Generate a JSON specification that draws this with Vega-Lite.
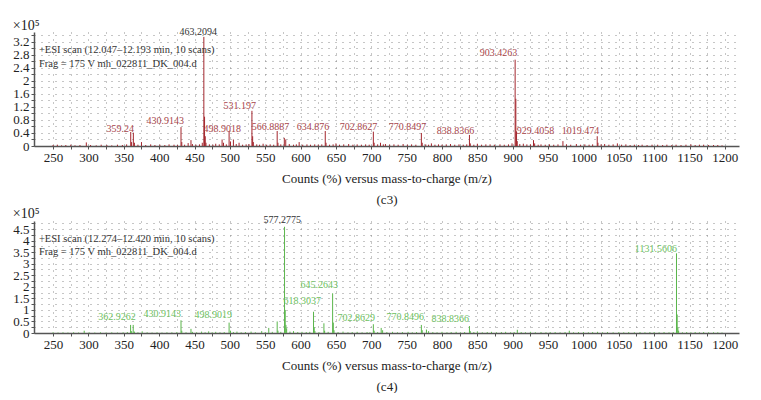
{
  "$schema": "https://vega.github.io/schema/vega-lite/v6.json",
  "padding": {"left": 12, "top": 19, "right": 5, "bottom": 0},
  "spacing": 0,
  "config": {
    "font": "Liberation Serif",
    "view": {"stroke": null},
    "axis": {
      "labelFont": "Liberation Serif", "titleFont": "Liberation Serif",
      "labelFontSize": 13, "titleFontSize": 13, "titleFontWeight": "normal",
      "labelColor": "#222", "titleColor": "#222", "labelOverlap": false,
      "domainColor": "#555", "domainWidth": 1.5,
      "tickColor": "#555", "tickSize": 3,
      "grid": true,
      "gridColor": "#8c8c8c", "gridDash": [1, 6], "gridWidth": 1, "gridOpacity": 1
    },
    "title": {"font": "Liberation Serif", "fontSize": 14, "fontWeight": "normal", "color": "#222"}
  },
  "datasets": {
    "c3": [
      {"mz":250,"i":0.03},{"mz":256,"i":0.04},{"mz":262,"i":0.02},{"mz":268,"i":0.03},{"mz":275,"i":0.04},{"mz":281,"i":0.02},{"mz":288,"i":0.03},{"mz":297,"i":0.11},{"mz":303,"i":0.03},{"mz":311,"i":0.02},{"mz":318,"i":0.04},{"mz":326,"i":0.03},{"mz":333,"i":0.02},{"mz":341,"i":0.04},{"mz":348,"i":0.03},{"mz":354,"i":0.05},{"mz":359.8,"i":0.43},{"mz":361,"i":0.12},{"mz":363.5,"i":0.41},{"mz":365,"i":0.1},{"mz":370,"i":0.04},{"mz":375,"i":0.12},{"mz":381,"i":0.03},{"mz":388,"i":0.05},{"mz":394,"i":0.03},{"mz":401,"i":0.04},{"mz":408,"i":0.03},{"mz":414,"i":0.05},{"mz":421,"i":0.04},{"mz":426,"i":0.03},{"mz":430.9,"i":0.58},{"mz":432,"i":0.12},{"mz":436,"i":0.04},{"mz":441,"i":0.09},{"mz":445,"i":0.18},{"mz":447,"i":0.06},{"mz":452,"i":0.04},{"mz":457,"i":0.05},{"mz":461,"i":0.1},{"mz":463.2,"i":3.35},{"mz":464.2,"i":0.9},{"mz":465.2,"i":0.3},{"mz":466.2,"i":0.1},{"mz":471,"i":0.05},{"mz":476,"i":0.04},{"mz":480,"i":0.07},{"mz":485,"i":0.05},{"mz":489,"i":0.2},{"mz":491,"i":0.1},{"mz":495,"i":0.05},{"mz":498.9,"i":0.46},{"mz":500.9,"i":0.14},{"mz":505,"i":0.2},{"mz":509,"i":0.06},{"mz":513,"i":0.1},{"mz":518,"i":0.04},{"mz":523,"i":0.05},{"mz":527,"i":0.06},{"mz":531.2,"i":1.08},{"mz":532.2,"i":0.3},{"mz":533.2,"i":0.12},{"mz":538,"i":0.05},{"mz":542,"i":0.04},{"mz":547,"i":0.07},{"mz":552,"i":0.04},{"mz":557,"i":0.05},{"mz":562,"i":0.04},{"mz":566.9,"i":0.46},{"mz":568,"i":0.1},{"mz":572,"i":0.05},{"mz":577,"i":0.25},{"mz":579,"i":0.2},{"mz":584,"i":0.06},{"mz":590,"i":0.04},{"mz":594,"i":0.05},{"mz":598,"i":0.12},{"mz":603,"i":0.04},{"mz":609,"i":0.05},{"mz":614,"i":0.04},{"mz":620,"i":0.05},{"mz":625,"i":0.04},{"mz":630,"i":0.05},{"mz":634.9,"i":0.46},{"mz":636,"i":0.1},{"mz":641,"i":0.04},{"mz":646,"i":0.05},{"mz":650,"i":0.08},{"mz":655,"i":0.04},{"mz":661,"i":0.05},{"mz":668,"i":0.06},{"mz":674,"i":0.04},{"mz":680,"i":0.05},{"mz":686,"i":0.04},{"mz":692,"i":0.05},{"mz":697,"i":0.04},{"mz":702.9,"i":0.44},{"mz":704,"i":0.1},{"mz":709,"i":0.05},{"mz":713,"i":0.1},{"mz":717,"i":0.05},{"mz":720,"i":0.06},{"mz":726,"i":0.04},{"mz":732,"i":0.05},{"mz":738,"i":0.04},{"mz":745,"i":0.06},{"mz":751,"i":0.04},{"mz":757,"i":0.05},{"mz":763,"i":0.04},{"mz":770.8,"i":0.4},{"mz":772,"i":0.1},{"mz":777,"i":0.05},{"mz":781,"i":0.04},{"mz":785,"i":0.08},{"mz":790,"i":0.04},{"mz":795,"i":0.05},{"mz":800,"i":0.04},{"mz":806,"i":0.05},{"mz":812,"i":0.06},{"mz":818,"i":0.04},{"mz":824,"i":0.05},{"mz":830,"i":0.04},{"mz":835,"i":0.05},{"mz":838.8,"i":0.34},{"mz":840,"i":0.08},{"mz":845,"i":0.04},{"mz":850,"i":0.07},{"mz":856,"i":0.04},{"mz":862,"i":0.05},{"mz":868,"i":0.05},{"mz":874,"i":0.04},{"mz":882,"i":0.05},{"mz":888,"i":0.04},{"mz":894,"i":0.05},{"mz":899,"i":0.08},{"mz":903.4,"i":2.65},{"mz":904.4,"i":1.45},{"mz":905.4,"i":0.45},{"mz":906.4,"i":0.15},{"mz":910,"i":0.06},{"mz":915,"i":0.07},{"mz":920,"i":0.05},{"mz":925,"i":0.05},{"mz":929.4,"i":0.18},{"mz":931,"i":0.08},{"mz":936,"i":0.04},{"mz":940,"i":0.05},{"mz":946,"i":0.04},{"mz":952,"i":0.05},{"mz":958,"i":0.04},{"mz":964,"i":0.05},{"mz":971,"i":0.15},{"mz":976,"i":0.05},{"mz":982,"i":0.04},{"mz":990,"i":0.06},{"mz":996,"i":0.04},{"mz":1002,"i":0.05},{"mz":1008,"i":0.04},{"mz":1013,"i":0.05},{"mz":1019.5,"i":0.3},{"mz":1020.5,"i":0.1},{"mz":1025,"i":0.05},{"mz":1030,"i":0.06},{"mz":1036,"i":0.04},{"mz":1042,"i":0.05},{"mz":1048,"i":0.08},{"mz":1054,"i":0.04},{"mz":1060,"i":0.05},{"mz":1066,"i":0.03},{"mz":1072,"i":0.04},{"mz":1078,"i":0.03},{"mz":1083,"i":0.04},{"mz":1090,"i":0.03},{"mz":1097,"i":0.04},{"mz":1105,"i":0.04},{"mz":1112,"i":0.03},{"mz":1118,"i":0.04},{"mz":1125,"i":0.03},{"mz":1131,"i":0.04},{"mz":1138,"i":0.03},{"mz":1145,"i":0.04},{"mz":1152,"i":0.05},{"mz":1158,"i":0.03},{"mz":1164,"i":0.04},{"mz":1170,"i":0.04},{"mz":1177,"i":0.03},{"mz":1184,"i":0.03},{"mz":1190,"i":0.03},{"mz":1196,"i":0.02}
    ],
    "c3labels": [
      {"label":"359.24","lx":364.5,"ly":0.52,"base":false},
      {"label":"430.9143","lx":435.2,"ly":0.77,"base":false},
      {"label":"463.2094","lx":481.9,"ly":3.5,"base":true},
      {"label":"498.9018","lx":515.9,"ly":0.52,"base":false},
      {"label":"531.197","lx":537,"ly":1.23,"base":false},
      {"label":"566.8887","lx":583.8,"ly":0.58,"base":false},
      {"label":"634.876","lx":640.4,"ly":0.58,"base":false},
      {"label":"702.8627","lx":708.3,"ly":0.58,"base":false},
      {"label":"770.8497","lx":777.6,"ly":0.58,"base":false},
      {"label":"838.8366","lx":845.5,"ly":0.46,"base":false},
      {"label":"903.4263","lx":906.4,"ly":2.86,"base":false},
      {"label":"929.4058","lx":958.7,"ly":0.46,"base":false},
      {"label":"1019.474","lx":1022.4,"ly":0.46,"base":false}
    ],
    "c4": [
      {"mz":250,"i":0.03},{"mz":257,"i":0.02},{"mz":264,"i":0.03},{"mz":271,"i":0.02},{"mz":279,"i":0.03},{"mz":286,"i":0.02},{"mz":294,"i":0.1},{"mz":301,"i":0.03},{"mz":309,"i":0.02},{"mz":317,"i":0.03},{"mz":325,"i":0.02},{"mz":333,"i":0.03},{"mz":341,"i":0.02},{"mz":349,"i":0.03},{"mz":355,"i":0.04},{"mz":359.6,"i":0.35},{"mz":361,"i":0.08},{"mz":363.3,"i":0.35},{"mz":365,"i":0.06},{"mz":370,"i":0.03},{"mz":376,"i":0.07},{"mz":383,"i":0.03},{"mz":390,"i":0.02},{"mz":397,"i":0.03},{"mz":404,"i":0.02},{"mz":411,"i":0.03},{"mz":418,"i":0.03},{"mz":425,"i":0.04},{"mz":430.9,"i":0.55},{"mz":432,"i":0.1},{"mz":438,"i":0.03},{"mz":445,"i":0.18},{"mz":447,"i":0.05},{"mz":453,"i":0.03},{"mz":460,"i":0.06},{"mz":465,"i":0.03},{"mz":470,"i":0.07},{"mz":475,"i":0.03},{"mz":480,"i":0.05},{"mz":486,"i":0.03},{"mz":492,"i":0.04},{"mz":498.9,"i":0.45},{"mz":500.9,"i":0.1},{"mz":505,"i":0.04},{"mz":510,"i":0.06},{"mz":516,"i":0.03},{"mz":522,"i":0.04},{"mz":530,"i":0.06},{"mz":536,"i":0.03},{"mz":545,"i":0.08},{"mz":550,"i":0.04},{"mz":555,"i":0.22},{"mz":560,"i":0.05},{"mz":566.9,"i":0.5},{"mz":568,"i":0.1},{"mz":572,"i":0.05},{"mz":577.3,"i":4.6},{"mz":578.3,"i":1.0},{"mz":579.3,"i":0.35},{"mz":580.3,"i":0.2},{"mz":585,"i":0.06},{"mz":590,"i":0.08},{"mz":596,"i":0.04},{"mz":602,"i":0.05},{"mz":608,"i":0.04},{"mz":613,"i":0.05},{"mz":618.3,"i":0.92},{"mz":619.3,"i":0.25},{"mz":620.3,"i":0.08},{"mz":626,"i":0.04},{"mz":633,"i":0.42},{"mz":634,"i":0.1},{"mz":639,"i":0.05},{"mz":645.3,"i":1.72},{"mz":646.3,"i":0.45},{"mz":647.3,"i":0.12},{"mz":653,"i":0.04},{"mz":660,"i":0.06},{"mz":667,"i":0.03},{"mz":673,"i":0.04},{"mz":680,"i":0.05},{"mz":687,"i":0.03},{"mz":694,"i":0.04},{"mz":698,"i":0.03},{"mz":702.9,"i":0.38},{"mz":704,"i":0.1},{"mz":709,"i":0.04},{"mz":714,"i":0.22},{"mz":716,"i":0.12},{"mz":722,"i":0.04},{"mz":730,"i":0.05},{"mz":737,"i":0.03},{"mz":744,"i":0.04},{"mz":752,"i":0.05},{"mz":758,"i":0.03},{"mz":764,"i":0.04},{"mz":770.8,"i":0.35},{"mz":772,"i":0.12},{"mz":778,"i":0.15},{"mz":781,"i":0.08},{"mz":787,"i":0.04},{"mz":793,"i":0.03},{"mz":800,"i":0.05},{"mz":807,"i":0.03},{"mz":813,"i":0.04},{"mz":820,"i":0.05},{"mz":826,"i":0.03},{"mz":832,"i":0.04},{"mz":838.8,"i":0.3},{"mz":840,"i":0.08},{"mz":845,"i":0.04},{"mz":850,"i":0.07},{"mz":857,"i":0.03},{"mz":864,"i":0.04},{"mz":870,"i":0.05},{"mz":877,"i":0.03},{"mz":884,"i":0.04},{"mz":890,"i":0.05},{"mz":897,"i":0.03},{"mz":902,"i":0.04},{"mz":906.5,"i":0.14},{"mz":912,"i":0.04},{"mz":918,"i":0.03},{"mz":925,"i":0.05},{"mz":932,"i":0.03},{"mz":940,"i":0.04},{"mz":947,"i":0.03},{"mz":953,"i":0.04},{"mz":960,"i":0.04},{"mz":967,"i":0.03},{"mz":974,"i":0.04},{"mz":980,"i":0.1},{"mz":986,"i":0.03},{"mz":993,"i":0.04},{"mz":1000,"i":0.04},{"mz":1007,"i":0.03},{"mz":1013,"i":0.04},{"mz":1020,"i":0.05},{"mz":1027,"i":0.03},{"mz":1034,"i":0.04},{"mz":1042,"i":0.03},{"mz":1050,"i":0.04},{"mz":1057,"i":0.03},{"mz":1064,"i":0.04},{"mz":1072,"i":0.03},{"mz":1080,"i":0.04},{"mz":1087,"i":0.03},{"mz":1094,"i":0.04},{"mz":1100,"i":0.04},{"mz":1107,"i":0.03},{"mz":1114,"i":0.04},{"mz":1121,"i":0.03},{"mz":1127,"i":0.04},{"mz":1131.6,"i":3.45},{"mz":1132.6,"i":0.8},{"mz":1133.6,"i":0.25},{"mz":1134.6,"i":0.1},{"mz":1140,"i":0.03},{"mz":1146,"i":0.04},{"mz":1152,"i":0.03},{"mz":1158,"i":0.04},{"mz":1164,"i":0.03},{"mz":1170,"i":0.04},{"mz":1177,"i":0.03},{"mz":1184,"i":0.03},{"mz":1190,"i":0.03},{"mz":1196,"i":0.02}
    ],
    "c4labels": [
      {"label":"362.9262","lx":367,"ly":0.69,"base":false},
      {"label":"430.9143","lx":431,"ly":0.82,"base":false},
      {"label":"498.9019","lx":503,"ly":0.77,"base":false},
      {"label":"577.2775","lx":600.5,"ly":4.9,"base":true},
      {"label":"618.3037","lx":628.8,"ly":1.37,"base":false},
      {"label":"645.2643","lx":652.9,"ly":2.06,"base":false},
      {"label":"702.8629","lx":705.2,"ly":0.64,"base":false},
      {"label":"770.8496","lx":774.5,"ly":0.69,"base":false},
      {"label":"838.8366","lx":838,"ly":0.6,"base":false},
      {"label":"1131.5606","lx":1132.2,"ly":3.65,"base":false}
    ]
  },
  "vconcat": [
    {
      "width": 705,
      "height": 114,
      "title": {"text": "×10⁵", "anchor": "start", "frame": "bounds", "offset": -6},
      "layer": [
        {
          "data": {"name": "c3"},
          "mark": {"type": "rule", "color": "#a3262d", "strokeWidth": 1},
          "encoding": {
            "x": {"field": "mz", "type": "quantitative",
              "scale": {"domain": [223, 1220], "nice": false, "zero": false},
              "axis": {
                "grid": true, "labelOverlap": false, "tickCount": 200,
                "values": [250,275,300,325,350,375,400,425,450,475,500,525,550,575,600,625,650,675,700,725,750,775,800,825,850,875,900,925,950,975,1000,1025,1050,1075,1100,1125,1150,1175,1200],
                "labelExpr": "datum.value % 50 == 0 ? datum.label : ''",
                "format": "d",
                "title": ["Counts (%) versus mass-to-charge  (m/z)", "(c3)"],
                "titleLineHeight": 21, "titlePadding": 8, "labelPadding": 2
              }},
            "y": {"field": "i", "type": "quantitative",
              "scale": {"domain": [0, 3.5], "nice": false},
              "axis": {
                "grid": true, "labelOverlap": false, "tickCount": 200,
                "values": [0,0.2,0.4,0.6,0.8,1,1.2,1.4,1.6,1.8,2,2.2,2.4,2.6,2.8,3,3.2,3.4],
                "labelExpr": "round(datum.value*10) % 4 == 0 ? format(datum.value, '.2~f') : ''",
                "title": null, "labelPadding": 2
              }},
            "y2": {"datum": 0}
          }
        },
        {
          "data": {"name": "c3labels"},
          "mark": {"type": "text", "align": "right", "baseline": "middle", "fontSize": 10, "font": "Liberation Serif"},
          "encoding": {
            "x": {"field": "lx", "type": "quantitative"},
            "y": {"field": "ly", "type": "quantitative"},
            "text": {"field": "label"},
            "color": {"condition": {"test": "datum.base", "value": "#333333"}, "value": "#a8454b"}
          }
        },
        {
          "data": {"values": [{"n": 1}]},
          "mark": {"type": "text", "align": "left", "baseline": "top", "fontSize": 10.5, "font": "Liberation Serif", "color": "#333", "lineHeight": 14,
            "text": ["+ESI scan (12.047–12.193 min, 10 scans)", "Frag = 175 V mh_022811_DK_004.d"]},
          "encoding": {
            "x": {"datum": 230, "type": "quantitative"},
            "y": {"datum": 3.1, "type": "quantitative"}
          }
        }
      ]
    },
    {
      "width": 705,
      "height": 112,
      "title": {"text": "×10⁵", "anchor": "start", "frame": "bounds", "offset": -6},
      "layer": [
        {
          "data": {"name": "c4"},
          "mark": {"type": "rule", "color": "#5ab54b", "strokeWidth": 1},
          "encoding": {
            "x": {"field": "mz", "type": "quantitative",
              "scale": {"domain": [223, 1220], "nice": false, "zero": false},
              "axis": {
                "grid": true, "labelOverlap": false, "tickCount": 200,
                "values": [250,275,300,325,350,375,400,425,450,475,500,525,550,575,600,625,650,675,700,725,750,775,800,825,850,875,900,925,950,975,1000,1025,1050,1075,1100,1125,1150,1175,1200],
                "labelExpr": "datum.value % 50 == 0 ? datum.label : ''",
                "format": "d",
                "title": ["Counts (%) versus mass-to-charge  (m/z)", "(c4)"],
                "titleLineHeight": 21, "titlePadding": 8, "labelPadding": 2
              }},
            "y": {"field": "i", "type": "quantitative",
              "scale": {"domain": [0, 4.85], "nice": false},
              "axis": {
                "grid": true, "labelOverlap": false, "tickCount": 200,
                "values": [0,0.25,0.5,0.75,1,1.25,1.5,1.75,2,2.25,2.5,2.75,3,3.25,3.5,3.75,4,4.25,4.5,4.75],
                "labelExpr": "round(datum.value*100) % 50 == 0 ? format(datum.value, '.2~f') : ''",
                "title": null, "labelPadding": 2
              }},
            "y2": {"datum": 0}
          }
        },
        {
          "data": {"name": "c4labels"},
          "mark": {"type": "text", "align": "right", "baseline": "middle", "fontSize": 10, "font": "Liberation Serif"},
          "encoding": {
            "x": {"field": "lx", "type": "quantitative"},
            "y": {"field": "ly", "type": "quantitative"},
            "text": {"field": "label"},
            "color": {"condition": {"test": "datum.base", "value": "#333333"}, "value": "#6dbf5e"}
          }
        },
        {
          "data": {"values": [{"n": 1}]},
          "mark": {"type": "text", "align": "left", "baseline": "top", "fontSize": 10.5, "font": "Liberation Serif", "color": "#333", "lineHeight": 13,
            "text": ["+ESI scan (12.274–12.420 min, 10 scans)", "Frag = 175 V mh_022811_DK_004.d"]},
          "encoding": {
            "x": {"datum": 230, "type": "quantitative"},
            "y": {"datum": 4.3, "type": "quantitative"}
          }
        }
      ]
    }
  ]
}
